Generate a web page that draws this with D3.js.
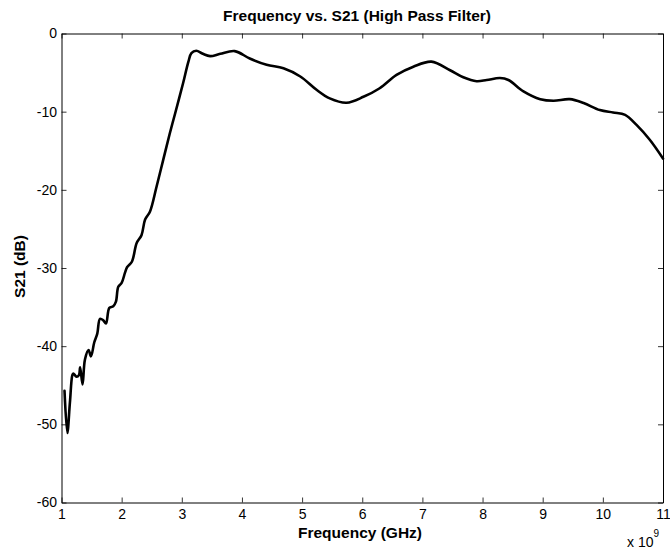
<!DOCTYPE html>
<html>
<head>
<meta charset="utf-8">
<script src="https://cdn.jsdelivr.net/npm/d3@7"></script>
<style>
  html, body { margin: 0; padding: 0; background: #fff; }
  svg { display: block; font-family: "Liberation Sans", Arial, Helvetica, sans-serif; }
</style>
</head>
<body>
<svg id="chart" width="670" height="550"></svg>
<script>
// Data (frequency in GHz, S21 in dB)
const freqGHz = [1.05,1.097,1.14,1.18,1.196,1.25,1.29,1.31,1.35,1.39,1.45,1.49,1.545,1.595,1.64,1.695,1.74,1.795,1.86,1.905,1.944,2.0,2.056,2.09,2.17,2.25,2.33,2.39,2.47,2.58,2.69,2.80,2.89,3.02,3.11,3.16,3.24,3.35,3.47,3.64,3.88,4.13,4.41,4.69,4.97,5.24,5.46,5.74,6.02,6.29,6.57,6.85,7.15,7.46,7.68,7.90,8.07,8.29,8.43,8.68,8.96,9.18,9.45,9.68,9.95,10.17,10.37,10.56,10.78,11.0];
const s21dB = [-45.7,-51.1,-47.2,-43.7,-43.5,-43.9,-43.7,-42.7,-44.9,-41.7,-40.5,-41.3,-39.5,-38.4,-36.5,-36.7,-37.1,-35.1,-34.9,-34.3,-32.4,-31.9,-30.6,-29.9,-29.2,-26.8,-25.8,-23.8,-22.8,-19.6,-16.2,-12.8,-10.2,-6.4,-3.6,-2.5,-2.2,-2.6,-2.9,-2.6,-2.25,-3.2,-4.0,-4.45,-5.5,-7.2,-8.3,-8.85,-8.1,-7.0,-5.3,-4.25,-3.6,-4.7,-5.6,-6.1,-5.95,-5.7,-5.95,-7.4,-8.4,-8.6,-8.4,-8.9,-9.8,-10.1,-10.4,-11.7,-13.6,-16.0];
const xTicks = [1,2,3,4,5,6,7,8,9,10,11];
const yTicks = [0,-10,-20,-30,-40,-50,-60];
const titleText = "Frequency vs. S21 (High Pass Filter)";
const xLabelText = "Frequency (GHz)";
const yLabelText = "S21 (dB)";

const svg = d3.select("#chart");
const pL = 61.5, pR = 663, pT = 33.5, pB = 502.5;
const x = d3.scaleLinear().domain([1, 11]).range([pL, pR]);
const y = d3.scaleLinear().domain([-60, 0]).range([pB, pT]);
const fmt = d => String(d);

// Axes (ticks inward, box on all sides)
const axB = d3.axisBottom(x).tickValues(xTicks).tickFormat(fmt).tickSizeInner(-5).tickSizeOuter(0).tickPadding(7);
const axT = d3.axisTop(x).tickValues(xTicks).tickSizeInner(-5).tickSizeOuter(0).tickFormat("");
const axL = d3.axisLeft(y).tickValues(yTicks).tickFormat(fmt).tickSizeInner(-5).tickSizeOuter(0).tickPadding(4.5);
const axR = d3.axisRight(y).tickValues(yTicks).tickSizeInner(-5).tickSizeOuter(0).tickFormat("");

function styleAxis(g) {
  g.selectAll(".domain").attr("stroke", "#000").attr("stroke-width", 1);
  g.selectAll(".tick line").attr("stroke", "#000").attr("stroke-width", 0.8);
  g.selectAll(".tick text").attr("fill", "#000").style("font-size", "14px")
    .style("font-family", "'Liberation Sans', Arial, sans-serif");
}
svg.append("g").attr("transform", `translate(0,${pB})`).call(axB).call(styleAxis);
svg.append("g").attr("transform", `translate(0,${pT})`).call(axT).call(styleAxis);
svg.append("g").attr("transform", `translate(${pL},0)`).call(axL).call(styleAxis);
svg.append("g").attr("transform", `translate(${pR},0)`).call(axR).call(styleAxis);

// Curve
const pts = freqGHz.map((f, i) => [f, s21dB[i]]);
svg.append("path")
  .datum(pts)
  .attr("fill", "none")
  .attr("stroke", "#000")
  .attr("stroke-width", 2.6)
  .attr("stroke-linejoin", "round")
  .attr("stroke-linecap", "round")
  .attr("d", d3.line().x(d => x(d[0])).y(d => y(d[1])).curve(d3.curveCatmullRom.alpha(0.5)));

// Title and labels
svg.append("text").attr("x", 357).attr("y", 20.5).attr("text-anchor", "middle")
  .style("font-size", "15.5px").style("font-weight", "bold").text(titleText);
svg.append("text").attr("x", 360).attr("y", 537.5).attr("text-anchor", "middle")
  .style("font-size", "15.5px").style("font-weight", "bold").text(xLabelText);
svg.append("text").attr("transform", "translate(25,266.5) rotate(-90)").attr("text-anchor", "middle")
  .style("font-size", "15.5px").style("font-weight", "bold").text(yLabelText);

// Exponent label
const ex = svg.append("text").attr("x", 627).attr("y", 547).style("font-size", "14px");
ex.append("tspan").text("x 10");
ex.append("tspan").attr("dy", -10).style("font-size", "10px").text("9");
</script>
</body>
</html>
